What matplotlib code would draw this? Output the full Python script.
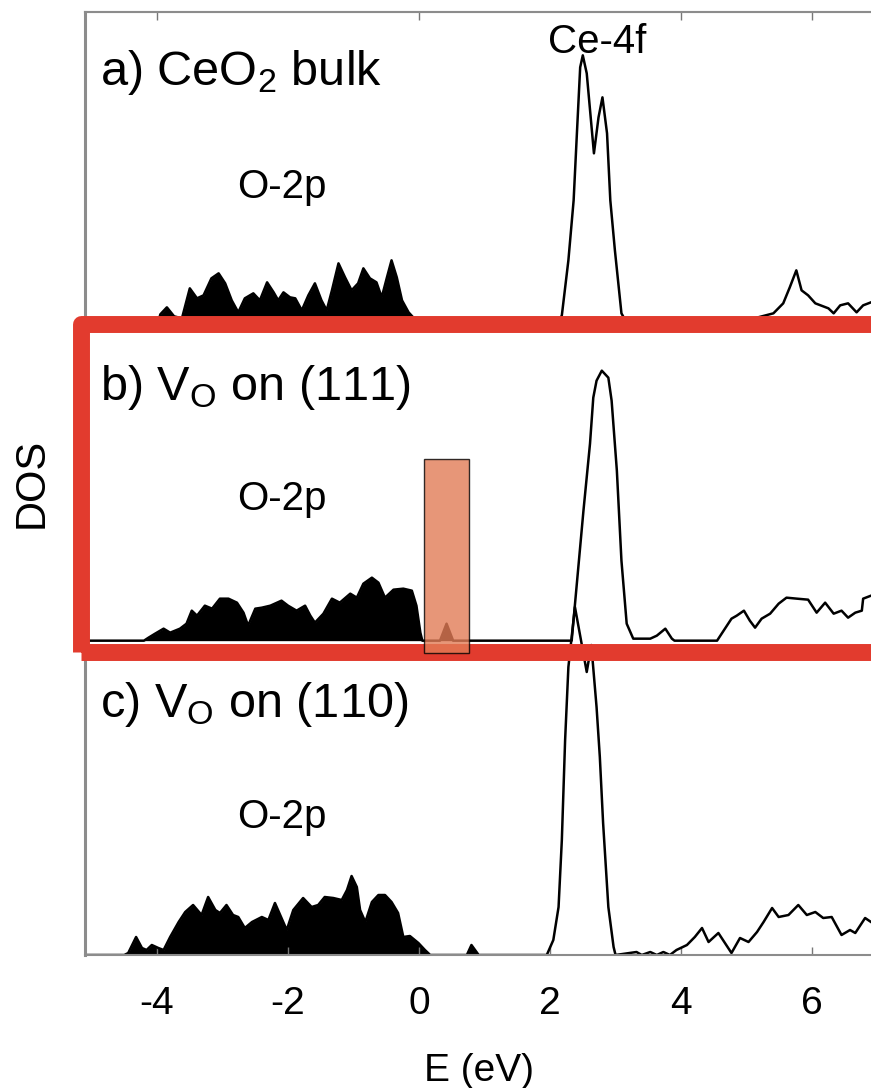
import matplotlib
matplotlib.use("Agg")
import matplotlib.pyplot as plt
import matplotlib.patches as patches
import numpy as np

plt.rcParams['font.family'] = ['Liberation Sans', 'DejaVu Sans']
plt.rcParams['mathtext.fontset'] = 'custom'
plt.rcParams['mathtext.rm'] = 'Liberation Sans'
plt.rcParams['mathtext.it'] = 'Liberation Sans:italic'
plt.rcParams['axes.unicode_minus'] = False

# a) CeO2 bulk
a_energy = [-5.1, -4.0, -3.95, -3.85, -3.74, -3.62, -3.50, -3.39, -3.29, -3.17, -3.06,
            -2.96, -2.86, -2.76, -2.66, -2.53, -2.43, -2.32, -2.22, -2.15, -2.07,
            -1.97, -1.89, -1.79, -1.69, -1.59, -1.49, -1.41, -1.33, -1.23, -1.13,
            -1.03, -0.93, -0.85, -0.75, -0.65, -0.57, -0.49, -0.42, -0.34, -0.26,
            -0.16, -0.09, 0.0,
            2.1, 2.18, 2.28, 2.36, 2.41, 2.46, 2.50, 2.56, 2.67, 2.74, 2.80, 2.87, 2.92,
            2.99, 3.09, 3.2, 4.2, 4.6, 5.0, 5.41, 5.56, 5.66, 5.76, 5.84, 5.94, 6.05,
            6.25, 6.33, 6.43, 6.55, 6.68, 6.78, 6.9]
a_dos = [0, 0, 12, 19, 10, 8, 38, 28, 31, 48, 53,
         43, 26, 14, 28, 33, 26, 44, 34, 26, 34,
         29, 28, 16, 31, 43, 26, 16, 36, 63, 49,
         36, 43, 58, 48, 44, 29, 49, 66, 49, 26,
         14, 9, 0,
         0, 11, 66, 126, 193, 259, 271, 253, 173, 209, 229, 193, 126,
         76, 13, 0, 0, 4, 6, 13, 23, 39, 56, 36, 31, 23,
         18, 13, 21, 23, 14, 21, 24]

# b) V_O on (111)
b_energy = [-5.1, -4.2, -4.13, -4.03, -3.90, -3.80, -3.65, -3.55, -3.47, -3.39,
            -3.27, -3.16, -3.04, -2.91, -2.78, -2.68, -2.61, -2.50, -2.40, -2.27,
            -2.10, -2.00, -1.87, -1.74, -1.66, -1.59, -1.46, -1.33, -1.21, -1.05,
            -0.95, -0.85, -0.72, -0.62, -0.52, -0.39, -0.24, -0.11, -0.04, 0.02,
            0.05, 0.32, 0.42, 0.52,
            2.33, 2.51, 2.61, 2.66, 2.71, 2.79, 2.89, 2.94, 3.02, 3.09,
            3.17, 3.27, 3.53, 3.63, 3.76, 3.86, 3.90, 4.55, 4.62, 4.77,
            4.85, 4.96, 5.05, 5.13, 5.23, 5.36, 5.49, 5.61, 5.77, 5.94,
            6.07, 6.20, 6.33, 6.45, 6.55, 6.66, 6.76, 6.78, 6.9]
b_dos = [0, 0, 3, 7, 12, 8, 12, 17, 30, 25,
         35, 32, 42, 42, 38, 28, 15, 32, 33, 35,
         40, 35, 30, 35, 25, 18, 27, 42, 38, 47,
         43, 57, 63, 58, 43, 51, 52, 50, 35, 8,
         0, 0, 17, 0,
         0, 130, 197, 243, 260, 270, 263, 240, 170, 80,
         17, 2, 2, 5, 12, 2, 0, 0, 7, 22,
         25, 30, 20, 13, 22, 27, 37, 43, 42, 41,
         28, 38, 27, 30, 23, 28, 30, 42, 45]

# c) V_O on (110)
c_energy = [-5.1, -4.5, -4.44, -4.32, -4.23, -4.16, -4.08, -3.98, -3.90, -3.80,
            -3.67, -3.57, -3.45, -3.32, -3.22, -3.11, -3.04, -2.94, -2.84, -2.76,
            -2.66, -2.55, -2.40, -2.30, -2.20, -2.10, -2.02, -1.92, -1.77, -1.64,
            -1.54, -1.44, -1.31, -1.18, -1.10, -1.03, -0.95, -0.90, -0.82, -0.72,
            -0.62, -0.52, -0.42, -0.32, -0.24, -0.14, -0.01, 0.09, 0.17, 0.73,
            0.80, 0.91,
            1.95, 2.05, 2.13, 2.18, 2.23, 2.28, 2.38, 2.48, 2.56, 2.63,
            2.71, 2.76, 2.81, 2.89, 2.97, 3.00, 3.32, 3.40, 3.53, 3.63,
            3.73, 3.83, 3.93, 4.09, 4.21, 4.32, 4.42, 4.57, 4.67, 4.77,
            4.90, 5.03, 5.16, 5.26, 5.39, 5.49, 5.64, 5.79, 5.92, 6.05,
            6.17, 6.30, 6.45, 6.58, 6.66, 6.81, 6.9]
c_dos = [0, 0, 2, 18, 7, 5, 10, 7, 5, 18,
         33, 43, 50, 40, 58, 45, 42, 50, 40, 38,
         27, 33, 38, 35, 52, 37, 25, 45, 57, 48,
         50, 58, 57, 55, 65, 79, 68, 45, 33, 53,
         60, 60, 53, 42, 18, 19, 12, 5, 0, 0,
         10, 0,
         0, 15, 48, 115, 215, 288, 348, 312, 283, 310,
         248, 198, 132, 48, 8, 0, 3, 0, 3, 0,
         3, 0, 5, 10, 18, 27, 13, 22, 12, 2,
         17, 13, 23, 33, 47, 38, 40, 50, 40, 43,
         37, 38, 20, 25, 22, 37, 33]

panel_labels = ['a) CeO$_2$ bulk', 'b) V$_\\mathrm{O}$ on (111)', 'c) V$_\\mathrm{O}$ on (110)']
xtick_values = [-4, -2, 0, 2, 4, 6]
top_ticks = [-4, 0, 4, 6]

W, H = 871, 1088
fig = plt.figure(figsize=(W / 100, H / 100), dpi=100)
ax = fig.add_axes([85 / W, 1 - 955 / H, 1 - 85 / W, 943 / H])

step = 943 / 3.0
series = [(a_energy, a_dos, 2 * step), (b_energy, b_dos, step), (c_energy, c_dos, 0.0)]
for e, d, off in series:
    e = np.array(e)
    d = np.array(d, dtype=float)
    occ = e < 1.5
    ax.fill_between(e[occ], off, off + d[occ], color='black', lw=0)
    ax.plot(e, off + d, color='black', lw=1.8)

ax.set_xlim(-5.1, 6.9)
ax.set_ylim(0, 943)
ax.set_yticks([])
ax.set_xticks(xtick_values)
ax.set_xticklabels([str(v) for v in xtick_values])
ax.tick_params(axis='x', direction='in', length=6, width=1, color='#777777',
               labelsize=28, pad=22)
for s in ['left', 'bottom', 'top']:
    ax.spines[s].set_color('#8c8c8c')
    ax.spines[s].set_linewidth(1.5)
ax.spines['left'].set_linewidth(2.2)
ax.spines['right'].set_visible(False)

top = ax.secondary_xaxis('top')
top.set_xticks(top_ticks)
top.set_xticklabels([])
top.tick_params(direction='in', length=6, width=1, color='#777777')
top.spines['top'].set_color('#bbbbbb')
top.spines['top'].set_linewidth(1.5)

# panel texts
label_y = [870, 555, 238]
o2p_y = [757, 445, 127]
for lab, ly, oy in zip(panel_labels, label_y, o2p_y):
    ax.text(-4.87, ly, lab, fontsize=35, va='baseline', ha='left')
    ax.text(-2.09, oy, 'O-2p', fontsize=29, va='baseline', ha='center')
ax.text(2.72, 902, 'Ce-4f', fontsize=29, va='baseline', ha='center')

fig.text(32 / W, 1 - 483 / H, 'DOS', rotation=90, fontsize=30, ha='center', va='center')
fig.text(479 / W, 1 - 1071 / H, 'E (eV)', fontsize=28, ha='center', va='center')

# red highlight frame around panel b
frame = patches.Rectangle((81 / W, 1 - 651.5 / H), (872 - 81) / W, (651.5 - 324) / H,
                          transform=fig.transFigure, fill=False, edgecolor='#e23b2e',
                          linewidth=12.2, joinstyle='round', zorder=2)
fig.add_artist(frame)

# gap-state box
gap_box = patches.Rectangle((0.08, 302), 0.68, 194, transform=ax.transData,
                            facecolor='#e27c56', alpha=0.8, edgecolor='black',
                            linewidth=1.0, zorder=3)
fig.add_artist(gap_box)

fig.savefig('out.png', dpi=100)
